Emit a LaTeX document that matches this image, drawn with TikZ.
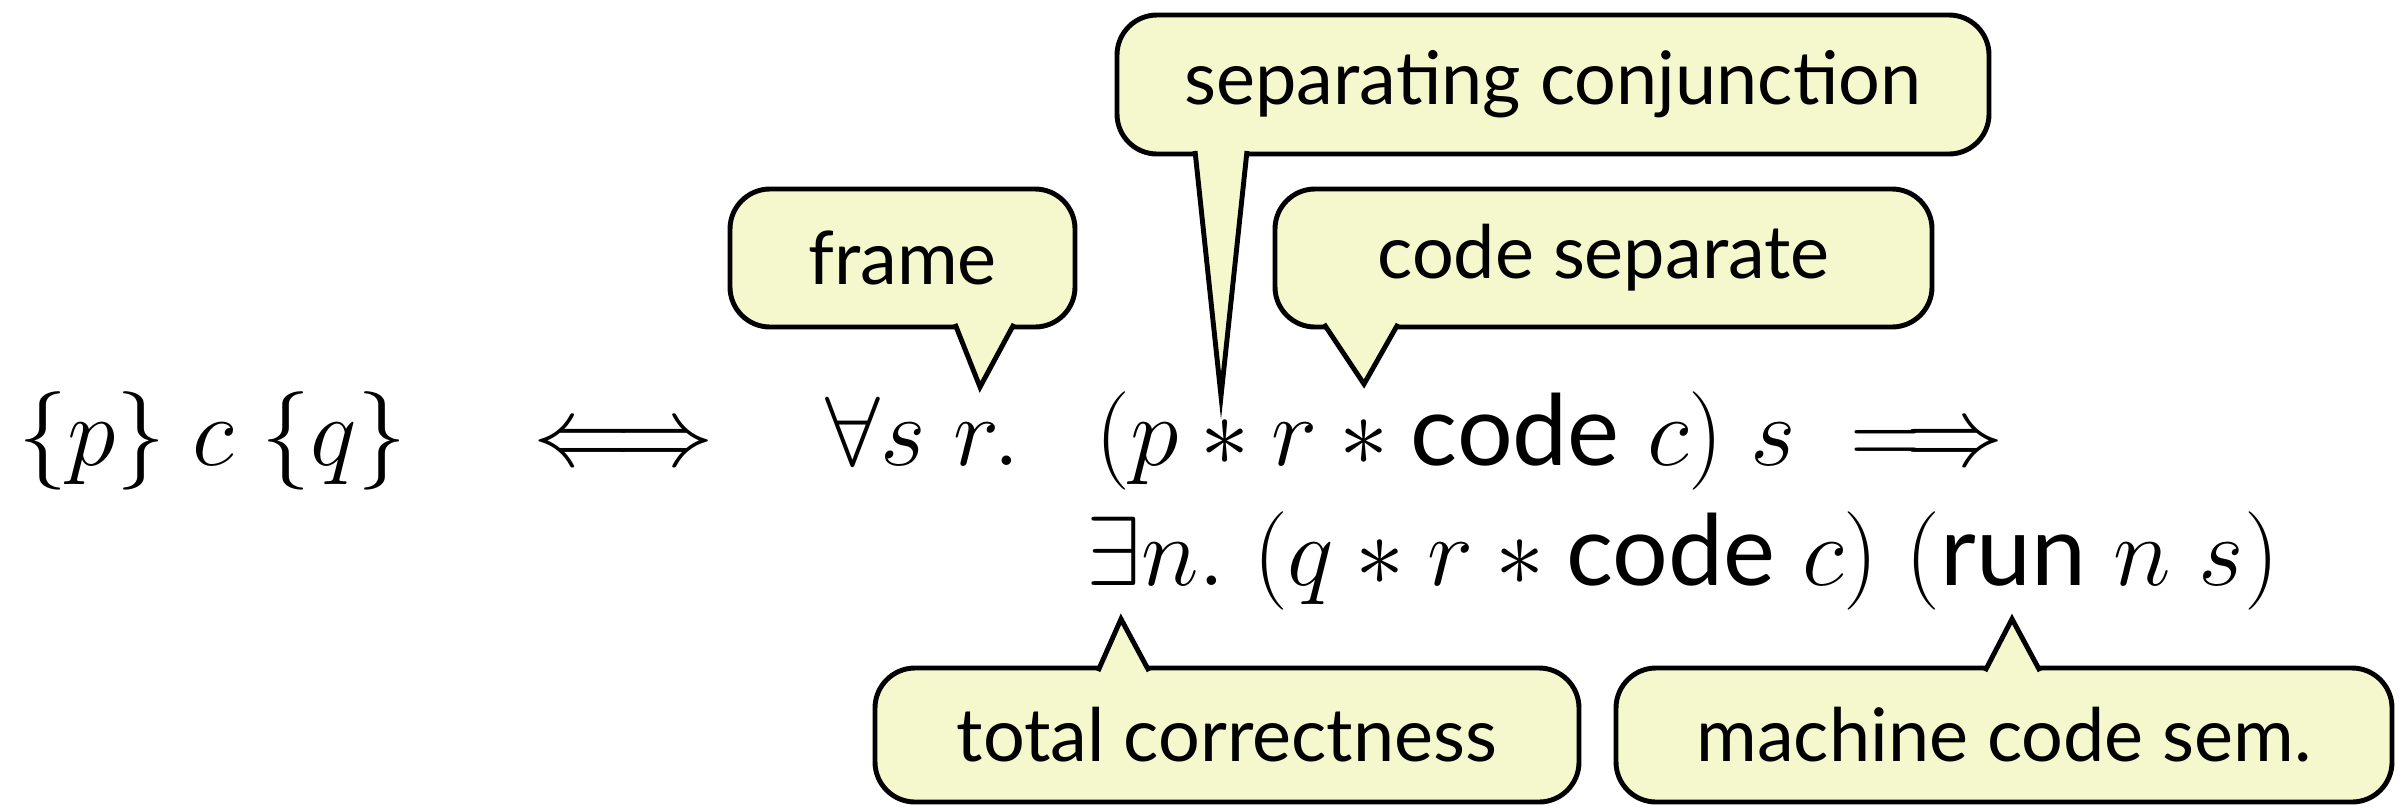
\documentclass[tikz,border=0pt]{standalone}
\usepackage{fix-cm}
\usepackage{fontspec}
\setsansfont{Lato}
\usetikzlibrary{positioning, calc}
\definecolor{notefill}{HTML}{F4F8CC}

\newcommand{\kw}[1]{\textsf{#1}}

\begin{document}
\begin{tikzpicture}[
    font=\fontsize{28}{34}\selectfont,
    % Formula pieces
    formula/.style={anchor=base west, inner sep=0pt},
    % Callout boxes
    note/.style={
        draw=black, line width=1.4pt, fill=notefill,
        rectangle, rounded corners=0.4cm,
        align=center, font=\sffamily\fontsize{21}{25}\selectfont
    },
    % Callout tails
    tail/.style={draw=black, line width=1.4pt, fill=notefill, line join=miter}
]
\useasboundingbox (0,0) rectangle (24.08,8.07);

% Formula, first line
\node[formula] (hoare) at (0.18,3.42) {$\{p\}\;c\;\{q\}$};
\node[formula] (iff) at (5.33,3.42) {$\Longleftrightarrow$};
\node[formula] (forall) at (8.25,3.42) {$\forall s\;r.$};
\node[formula] (pre) at (10.95,3.42) {$(p * r * \kw{code}\;c)\;s\;\Longrightarrow$};

% Formula, second line
\node[formula] (post) at (10.86,2.22) {$\exists n.\;(q * r * \kw{code}\;c)\;(\kw{run}\;n\;s)$};

% Callout boxes (top)
\node[note, minimum width=8.72cm, minimum height=1.39cm] (sepconj) at (15.53,7.225) {separating conjunction};
\node[note, minimum width=3.45cm, minimum height=1.38cm] (frame) at (9.025,5.49) {frame};
\node[note, minimum width=6.57cm, minimum height=1.38cm] (codesep) at (16.035,5.49) {code separate};

% Callout boxes (bottom)
\node[note, minimum width=7.04cm, minimum height=1.34cm] (total) at (12.27,0.72) {total correctness};
\node[note, minimum width=7.76cm, minimum height=1.34cm] (machine) at (20.04,0.72) {machine code sem.};

% Points the callouts aim at
\coordinate (sepconj tip) at (12.21,4.11);
\coordinate (frame tip) at (9.80,4.20);
\coordinate (codesep tip) at (13.64,4.23);
\coordinate (total tip) at (11.21,1.88);
\coordinate (machine tip) at (20.12,1.88);

% Tails
\filldraw[tail] ($(sepconj.south)+(-3.58,0.055)$) -- (sepconj tip) -- ($(sepconj.south)+(-3.06,0.055)$);
\filldraw[tail] ($(frame.south)+(0.525,0.055)$) -- (frame tip) -- ($(frame.south)+(1.115,0.055)$);
\filldraw[tail] ($(codesep.south)+(-2.795,0.055)$) -- (codesep tip) -- ($(codesep.south)+(-2.055,0.055)$);
\filldraw[tail] ($(total.north)+(-1.29,-0.055)$) -- (total tip) -- ($(total.north)+(-0.78,-0.055)$);
\filldraw[tail] ($(machine.north)+(-0.19,-0.055)$) -- (machine tip) -- ($(machine.north)+(0.36,-0.055)$);

\end{tikzpicture}
\end{document}
